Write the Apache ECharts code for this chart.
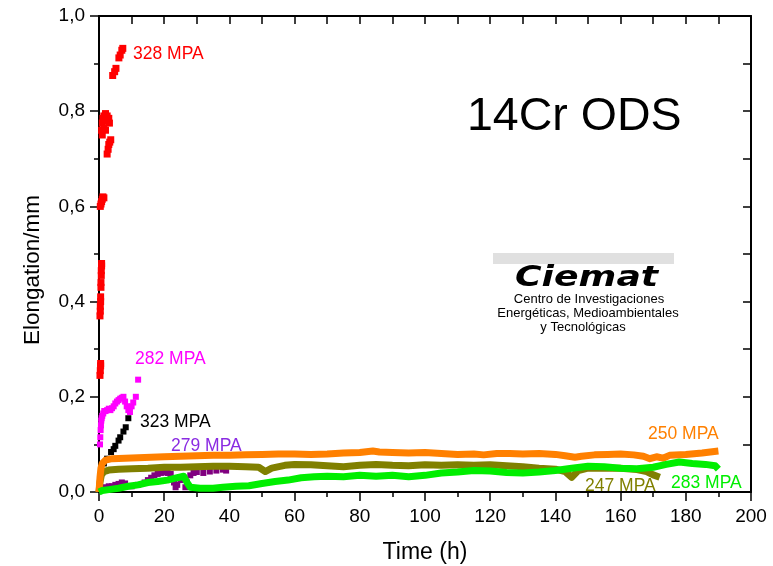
<!DOCTYPE html>
<html>
<head>
<meta charset="utf-8">
<script src="https://cdn.jsdelivr.net/npm/echarts@6/dist/echarts.min.js"></script>
<style>html,body{margin:0;padding:0;background:#fff}#c{width:773px;height:566px}</style>
</head>
<body>
<div id="c"></div>
<script>
// ---- data (time h, elongation mm) ----
var xTicks = [0, 20, 40, 60, 80, 100, 120, 140, 160, 180, 200];
var yTicks = [0, 0.2, 0.4, 0.6, 0.8, 1.0];

var s328 = [[0.3,0.245],[0.4,0.255],[0.5,0.265],[0.5,0.27],
  [0.3,0.37],[0.4,0.38],[0.4,0.39],[0.5,0.40],[0.5,0.41],[0.6,0.43],[0.6,0.44],[0.7,0.455],[0.7,0.465],[0.8,0.475],[0.8,0.48],
  [0.4,0.6],[0.6,0.605],[0.8,0.61],[1.0,0.615],[1.2,0.62],[1.5,0.618],
  [0.8,0.76],[1,0.775],[1.2,0.785],[1.5,0.79],[2,0.795],[2.5,0.79],[3,0.785],[1,0.75],[1.5,0.765],[2.5,0.78],[3.2,0.775],[2,0.76],
  [2.5,0.71],[2.8,0.72],[3,0.73],[3.3,0.735],[3.6,0.74],
  [4.2,0.875],[4.8,0.883],[5.2,0.89],[6.1,0.912],[6.5,0.918],[7,0.928],[7.3,0.932]];

var s282 = [[0.3,0.1],[0.4,0.115],[0.5,0.13],[0.6,0.14],[0.7,0.15],[0.8,0.155],[1,0.16],[1.3,0.165],[1.6,0.17],[2,0.17],[2.5,0.172],[3,0.175],[3.5,0.172],[4,0.176],[4.5,0.18],[5,0.186],[5.5,0.19],[6,0.193],[6.5,0.196],[7,0.198],[7.5,0.2],[8,0.19],[8.5,0.18],[9,0.172],[9.5,0.168],[10,0.18],[10.5,0.188],[11.3,0.2],[12,0.236]];

var s323 = [[1.5,0.06],[2.5,0.07],[3.7,0.084],[4.5,0.09],[5,0.097],[6,0.108],[6.5,0.115],[7.5,0.127],[8.2,0.136],[9,0.155]];

var s279 = [[1,0.005],[2,0.01],[3,0.012],[4,0.012],[5,0.015],[6,0.017],[7,0.02],[8,0.018],[10,0.012],[12,0.015],[14,0.02],[15,0.025],[16,0.03],[17,0.035],[18,0.038],[19,0.04],[20,0.042],[21,0.04],[22,0.038],[23,0.02],[23.5,0.01],[24,0.015],[25,0.025],[26,0.03],[26.5,0.01],[27,0.02],[28,0.035],[29,0.04],[30,0.042],[32,0.04],[34,0.043],[36,0.045],[38,0.047],[39,0.045]];

var s250 = [[0,0],[0.3,0.03],[0.6,0.05],[1,0.06],[2,0.067],[4,0.07],[8,0.071],[12,0.072],[16,0.073],[20,0.074],[25,0.075],[30,0.076],[35,0.077],[40,0.077],[45,0.078],[50,0.079],[55,0.08],[60,0.08],[65,0.079],[70,0.08],[75,0.082],[80,0.083],[84,0.086],[86,0.084],[90,0.083],[95,0.082],[100,0.083],[105,0.081],[110,0.079],[115,0.08],[118,0.078],[122,0.081],[126,0.081],[130,0.08],[135,0.081],[140,0.079],[143,0.076],[146,0.073],[148,0.075],[152,0.078],[156,0.079],[160,0.08],[164,0.078],[167,0.075],[169,0.07],[171,0.074],[173,0.071],[175,0.077],[180,0.079],[185,0.082],[190,0.086]];

var s247 = [[0,0],[0.3,0.02],[0.7,0.035],[1.5,0.043],[3,0.046],[6,0.048],[10,0.049],[15,0.05],[20,0.052],[25,0.052],[30,0.053],[35,0.054],[40,0.054],[45,0.053],[49,0.052],[51,0.043],[53,0.05],[57,0.056],[60,0.058],[65,0.057],[70,0.055],[75,0.053],[80,0.056],[85,0.058],[90,0.056],[95,0.055],[100,0.057],[105,0.056],[110,0.057],[115,0.056],[120,0.057],[125,0.055],[130,0.053],[135,0.05],[140,0.048],[143,0.043],[145,0.031],[147,0.045],[150,0.05],[155,0.05],[160,0.05],[165,0.047],[168,0.043],[170,0.036],[172,0.031]];

var s283 = [[0,0],[1,0.003],[3,0.005],[6,0.008],[9,0.012],[12,0.015],[15,0.02],[18,0.022],[21,0.025],[24,0.03],[26,0.033],[27,0.02],[28,0.01],[31,0.008],[35,0.008],[38,0.01],[42,0.012],[46,0.013],[50,0.018],[54,0.022],[58,0.025],[62,0.03],[66,0.032],[70,0.033],[75,0.032],[80,0.035],[85,0.033],[90,0.035],[95,0.032],[100,0.035],[105,0.04],[110,0.042],[115,0.045],[120,0.044],[125,0.041],[130,0.04],[135,0.042],[140,0.045],[145,0.05],[150,0.054],[155,0.053],[160,0.05],[165,0.049],[170,0.052],[174,0.058],[178,0.063],[182,0.06],[186,0.058],[189,0.055],[190,0.048]];

var labels = [
  {text:'328 MPA', color:'#ff0000', x:133, y:54},
  {text:'282 MPA', color:'#ff00ff', x:135, y:359},
  {text:'323 MPA', color:'#000000', x:140, y:422},
  {text:'279 MPA', color:'#8a2be2', x:171, y:446},
  {text:'250 MPA', color:'#ff8000', x:648, y:434},
  {text:'247 MPA', color:'#808000', x:585, y:486},
  {text:'283 MPA', color:'#00ee00', x:671, y:483}
];

var FONT = '"Liberation Sans", Arial, sans-serif';
var chart = echarts.init(document.getElementById('c'));

function scat(name, data, color, size) {
  return {name:name, type:'scatter', data:data, symbol:'rect', symbolSize:size||6,
    itemStyle:{color:color, opacity:1}, silent:true, animation:false};
}
function band(name, data, color) {
  return {name:name, type:'line', data:data, symbol:'none', smooth:false,
    lineStyle:{color:color, width:7, join:'round'}, silent:true, animation:false};
}

var graphics = labels.map(function(l){
  return {type:'text', x:l.x, y:l.y, style:{text:l.text, fill:l.color, font:'17.5px ' + FONT, textAlign:'left', textVerticalAlign:'middle'}};
});
graphics.push({type:'text', x:467, y:117, style:{text:'14Cr ODS', fill:'#000', font:'46.5px ' + FONT, textAlign:'left', textVerticalAlign:'middle'}});
graphics.push({type:'rect', shape:{x:493, y:253, width:181, height:11}, style:{fill:'#e0e0e0'}});
graphics.push({type:'text', x:515, y:278, scaleX:1.25, style:{text:'Ciemat', fill:'#000', font:'italic 900 29px "DejaVu Sans", sans-serif', textAlign:'left', textVerticalAlign:'middle'}});
graphics.push({type:'text', x:589, y:299, style:{text:'Centro de Investigaciones', fill:'#000', font:'13px ' + FONT, textAlign:'center', textVerticalAlign:'middle'}});
graphics.push({type:'text', x:588, y:313, style:{text:'Energéticas, Medioambientales', fill:'#000', font:'13px ' + FONT, textAlign:'center', textVerticalAlign:'middle'}});
graphics.push({type:'text', x:583, y:327, style:{text:'y Tecnológicas', fill:'#000', font:'13px ' + FONT, textAlign:'center', textVerticalAlign:'middle'}});
graphics.push({type:'text', x:33, y:270, rotation:Math.PI/2, style:{text:'Elongation/mm', fill:'#000', font:'22.5px ' + FONT, textAlign:'center', textVerticalAlign:'middle'}});
graphics.push({type:'text', x:425, y:553, style:{text:'Time (h)', fill:'#000', font:'23px ' + FONT, textAlign:'center', textVerticalAlign:'middle'}});

var axisLine = {show:true, onZero:false, lineStyle:{color:'#000', width:2}};

chart.setOption({
  backgroundColor:'#fff',
  animation:false,
  grid:{left:99, right:22, top:16, bottom:74, containLabel:false},
  xAxis:[{
    type:'value', min:0, max:200, interval:20, position:'bottom',
    axisLine:axisLine,
    axisTick:{show:true, inside:false, length:9, lineStyle:{color:'#000', width:1.5}},
    minorTick:{show:true, splitNumber:2, length:5, lineStyle:{color:'#000', width:1.5}},
    splitLine:{show:false},
    axisLabel:{color:'#000', fontSize:19, fontFamily:FONT, margin:15,
      formatter:function(v){ return xTicks.indexOf(v) >= 0 ? String(v) : ''; }}
  },{
    type:'value', min:0, max:200, interval:10, position:'top',
    axisLine:axisLine,
    axisTick:{show:true, inside:true, length:8, lineStyle:{color:'#000', width:1.5}},
    axisLabel:{show:false}, splitLine:{show:false}
  }],
  yAxis:[{
    type:'value', min:0, max:1, interval:0.2, position:'left',
    axisLine:axisLine,
    axisTick:{show:true, inside:false, length:9, lineStyle:{color:'#000', width:1.5}},
    minorTick:{show:true, splitNumber:2, length:5, lineStyle:{color:'#000', width:1.5}},
    splitLine:{show:false},
    axisLabel:{color:'#000', fontSize:19, fontFamily:FONT, margin:14,
      formatter:function(v){ return yTicks.indexOf(Math.round(v*10)/10) >= 0 ? v.toFixed(1).replace('.', ',') : ''; }}
  },{
    type:'value', min:0, max:1, interval:0.1, position:'right',
    axisLine:axisLine,
    axisTick:{show:true, inside:true, length:8, lineStyle:{color:'#000', width:1.5}},
    axisLabel:{show:false}, splitLine:{show:false}
  }],
  series:[
    scat('328 MPA', s328, '#ff0000', 7),
    band('247 MPA', s247, '#808000'),
    band('250 MPA', s250, '#ff8000'),
    band('283 MPA', s283, '#00ee00'),
    scat('279 MPA', s279, '#800080', 6),
    scat('323 MPA', s323, '#000000', 6),
    scat('282 MPA', s282, '#ff00ff', 6)
  ],
  graphic:graphics
});
</script>
</body>
</html>
